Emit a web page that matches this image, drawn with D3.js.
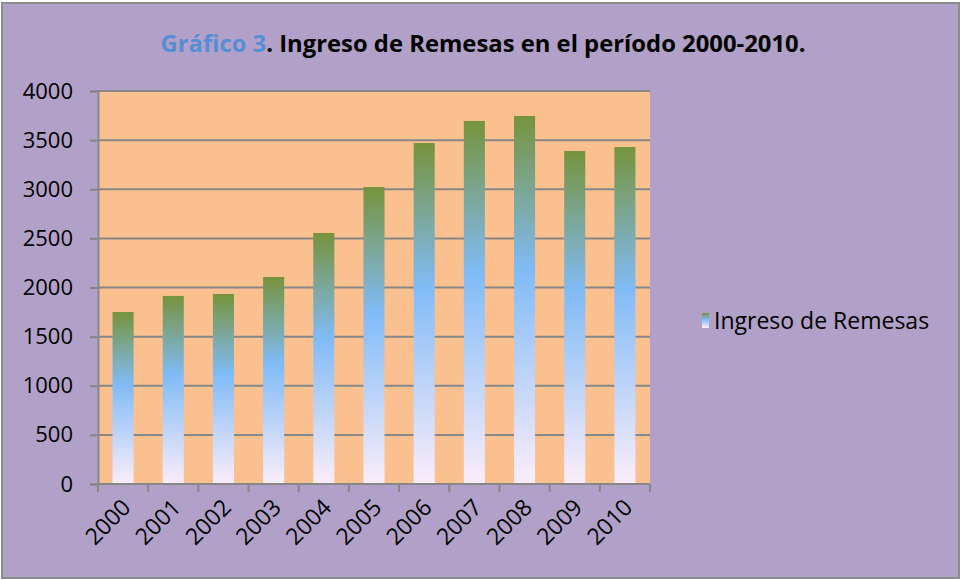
<!DOCTYPE html>
<html lang="es">
<head>
<meta charset="UTF-8">
<title>Gráfico 3</title>
<style>
  body { margin: 0; background: #fff; }
  svg text { font-family: "Open Sans", "Noto Sans", sans-serif; }
</style>
</head>
<body>
<svg width="962" height="580"></svg>
<script src="https://cdn.jsdelivr.net/npm/d3@7/dist/d3.min.js"></script>
<script>
// data
var years = ["2000","2001","2002","2003","2004","2005","2006","2007","2008","2009","2010"];
var remesas = [1751, 1914, 1934, 2107, 2555, 3023, 3471, 3695, 3746, 3389, 3430];
var yTicks = [0, 500, 1000, 1500, 2000, 2500, 3000, 3500, 4000];
var seriesName = "Ingreso de Remesas";

var svg = d3.select("svg");
var pLeft = 98, pRight = 650, pTop = 91, pBottom = 484;

// chart background + border
svg.append("rect")
  .attr("x", 2).attr("y", 3).attr("width", 957).attr("height", 575)
  .attr("fill", "#b1a0c7").attr("stroke", "#8c8c8c").attr("stroke-width", 2);

// gradient for bars
var defs = svg.append("defs");
var grad = defs.append("linearGradient").attr("id", "barGrad")
  .attr("x1", 0).attr("y1", 0).attr("x2", 0).attr("y2", 1);
grad.append("stop").attr("offset", "0").attr("stop-color", "#76933c");
grad.append("stop").attr("offset", "0.42").attr("stop-color", "#80bbf6");
grad.append("stop").attr("offset", "1").attr("stop-color", "#fbedfa");

var x = d3.scaleBand().domain(years).range([pLeft, pRight]);
var y = d3.scaleLinear().domain([0, 4000]).range([pBottom, pTop]);

// plot area
svg.append("rect")
  .attr("x", pLeft).attr("y", pTop).attr("width", pRight - pLeft).attr("height", pBottom - pTop)
  .attr("fill", "#fac08f");

// gridlines
svg.append("g").selectAll("line").data(yTicks.filter(function(d){ return d > 0; }))
  .enter().append("line")
  .attr("x1", pLeft).attr("x2", pRight)
  .attr("y1", function(d){ return y(d); }).attr("y2", function(d){ return y(d); })
  .attr("stroke", "#878787").attr("stroke-width", 2);

// bars
var bw = x.bandwidth() * 0.42;
svg.append("g").selectAll("rect").data(remesas).enter().append("rect")
  .attr("x", function(d, i){ return x(years[i]) + (x.bandwidth() - bw) / 2; })
  .attr("y", function(d){ return y(d); })
  .attr("width", bw)
  .attr("height", function(d){ return pBottom - y(d); })
  .attr("fill", "url(#barGrad)");

// y axis
var yAxis = svg.append("g").attr("transform", "translate(" + pLeft + ",0)")
  .call(d3.axisLeft(y).tickValues(yTicks).tickSize(8).tickPadding(17).tickFormat(d3.format("d")));
yAxis.select(".domain").attr("stroke", "#878787").attr("stroke-width", 2);
yAxis.selectAll(".tick line").attr("stroke", "#878787").attr("stroke-width", 2);
yAxis.selectAll("text").attr("font-size", 22).attr("fill", "#000")
  .attr("font-family", "'Open Sans', sans-serif");

// x axis: ticks on category boundaries
var xAxis = svg.append("g").attr("transform", "translate(0," + pBottom + ")");
xAxis.append("line").attr("x1", pLeft).attr("x2", pRight)
  .attr("stroke", "#878787").attr("stroke-width", 2);
var bounds = years.map(function(d){ return x(d); }).concat([pRight]);
xAxis.selectAll("line.tk").data(bounds).enter().append("line").attr("class", "tk")
  .attr("x1", function(d){ return d; }).attr("x2", function(d){ return d; })
  .attr("y1", 0).attr("y2", 8)
  .attr("stroke", "#878787").attr("stroke-width", 2);
xAxis.selectAll("text").data(years).enter().append("text")
  .attr("transform", function(d){
    return "translate(" + (x(d) + x.bandwidth() / 2 + 9) + ",25) rotate(-45)";
  })
  .attr("text-anchor", "end")
  .attr("font-size", 23)
  .attr("fill", "#000")
  .text(function(d){ return d; });

// title
var title = svg.append("text")
  .attr("x", 483).attr("y", 52)
  .attr("text-anchor", "middle")
  .attr("font-size", 23).attr("font-weight", "bold")
  .attr("textLength", 645).attr("lengthAdjust", "spacingAndGlyphs");
title.append("tspan").attr("fill", "#558ed5").text("Gráfico 3");
title.append("tspan").attr("fill", "#000").text(". Ingreso de Remesas en el período 2000-2010.");

// legend
svg.append("rect").attr("x", 702).attr("y", 313).attr("width", 7).attr("height", 15)
  .attr("fill", "url(#barGrad)");
svg.append("text").attr("x", 714).attr("y", 329)
  .attr("font-size", 23).attr("fill", "#000").text(seriesName);
</script>
</body>
</html>
